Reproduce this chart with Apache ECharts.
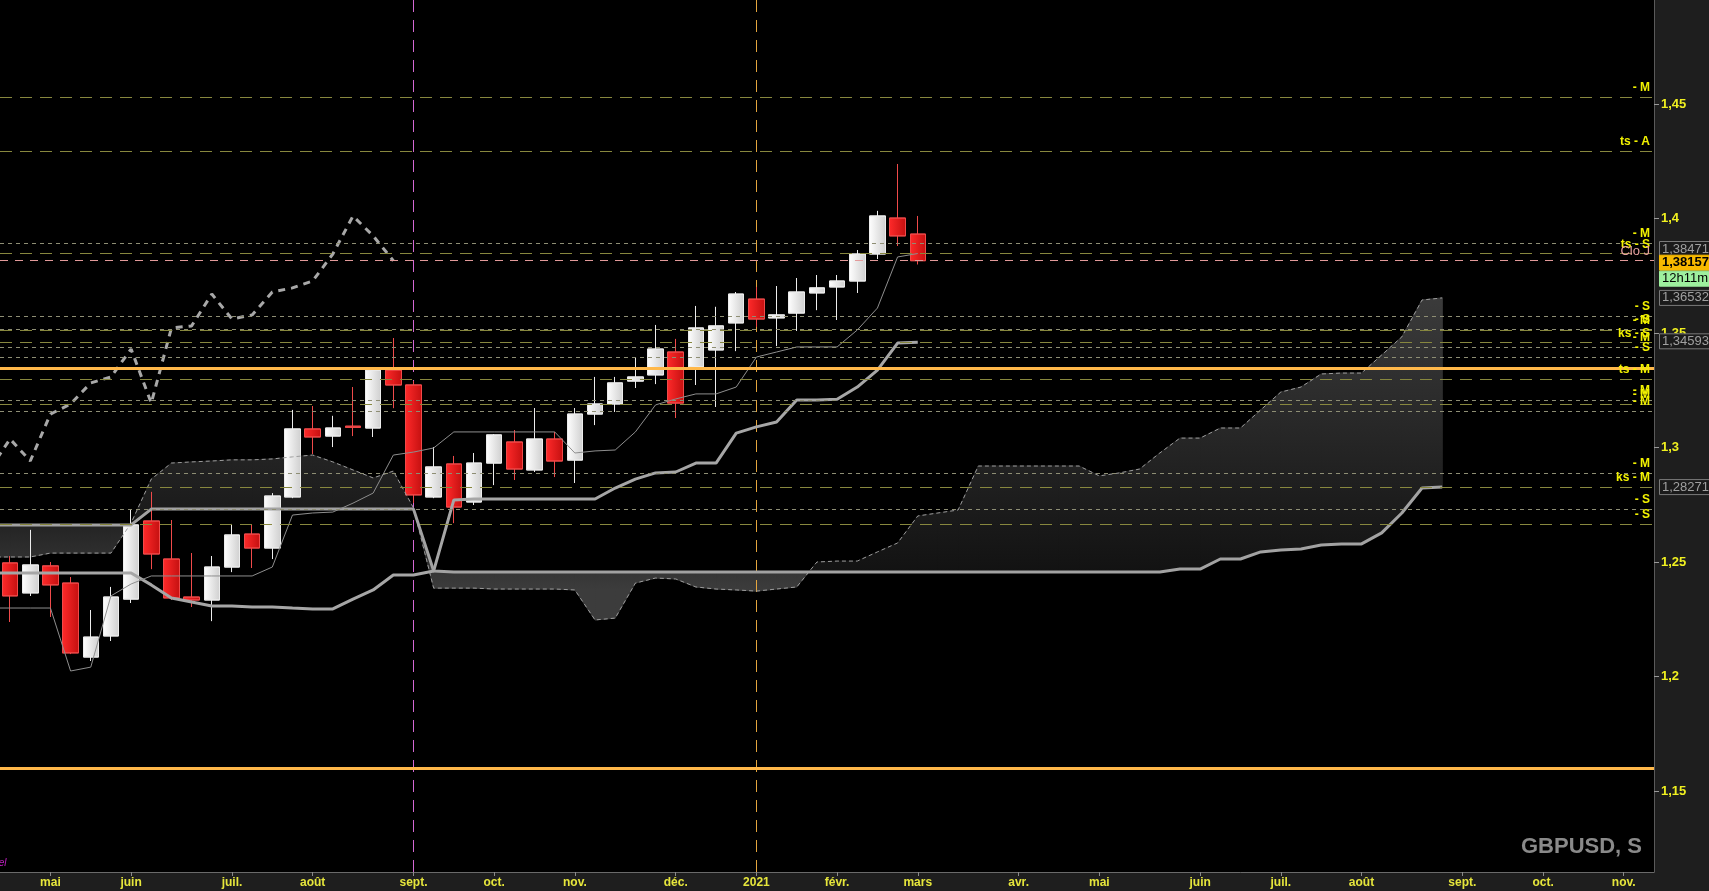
<!DOCTYPE html>
<html><head><meta charset="utf-8">
<script src="https://cdn.jsdelivr.net/npm/echarts@6/dist/echarts.min.js"></script>
<style>html,body{margin:0;padding:0;background:#1e1e1e;overflow:hidden}#c{width:1709px;height:891px}</style>
</head><body><div id="c"></div>
<script>
// ---- categories: weekly bars (Monday) ----
const weeks = ['2020-04-20','2020-04-27','2020-05-04','2020-05-11','2020-05-18','2020-05-25','2020-06-01','2020-06-08','2020-06-15','2020-06-22','2020-06-29','2020-07-06','2020-07-13','2020-07-20','2020-07-27','2020-08-03','2020-08-10','2020-08-17','2020-08-24','2020-08-31','2020-09-07','2020-09-14','2020-09-21','2020-09-28','2020-10-05','2020-10-12','2020-10-19','2020-10-26','2020-11-02','2020-11-09','2020-11-16','2020-11-23','2020-11-30','2020-12-07','2020-12-14','2020-12-21','2020-12-28',
'2021-01-04','2021-01-11','2021-01-18','2021-01-25','2021-02-01','2021-02-08','2021-02-15','2021-02-22','2021-03-01','2021-03-08','2021-03-15','2021-03-22','2021-03-29','2021-04-05','2021-04-12','2021-04-19','2021-04-26','2021-05-03','2021-05-10','2021-05-17','2021-05-24','2021-05-31','2021-06-07','2021-06-14','2021-06-21','2021-06-28','2021-07-05','2021-07-12','2021-07-19','2021-07-26','2021-08-02','2021-08-09','2021-08-16','2021-08-23','2021-08-30','2021-09-06','2021-09-13','2021-09-20','2021-09-27','2021-10-04','2021-10-11','2021-10-18','2021-10-25','2021-11-01','2021-11-08'];
const tickWeeks = ['2020-05-04','2020-06-01','2020-07-06','2020-08-03','2020-09-07','2020-10-05','2020-11-02','2020-12-07','2021-01-04','2021-02-01','2021-03-01','2021-04-05','2021-05-03','2021-06-07','2021-07-05','2021-08-02','2021-09-06','2021-10-04','2021-11-01'];
const tickLabels = ['mai','juin','juil.','août','sept.','oct.','nov.','déc.','2021','févr.','mars','avr.','mai','juin','juil.','août','sept.','oct.','nov.'];
const vLineWeeks = ['2020-09-07','2021-01-04'];

// ---- GBPUSD weekly candles (2020-04-20 .. 2021-03-01) ----
const open  = [1.2496,1.2365,1.2483,1.2408,1.2085,1.2177,1.2338,1.2679,1.2513,1.2347,1.2334,1.2478,1.2622,1.2561,1.2784,1.3081,1.3050,1.3093,1.3085,1.3338,1.3273,1.2784,1.2928,1.2762,1.2932,1.3024,1.2902,1.3037,1.2945,1.3146,1.3190,1.3290,1.3317,1.3417,1.3352,1.3426,1.3544,1.3648,1.3566,1.3587,1.3675,1.3701,1.3727,1.3845,1.4002,1.3932];
const close = [1.2352,1.2487,1.2400,1.2103,1.2172,1.2347,1.2662,1.2535,1.2343,1.2334,1.2478,1.2618,1.2561,1.2788,1.3081,1.3046,1.3085,1.3088,1.3338,1.3273,1.2793,1.2915,1.2740,1.2932,1.3055,1.2906,1.3037,1.2941,1.3146,1.3190,1.3282,1.3308,1.3430,1.3194,1.3522,1.3531,1.3670,1.3561,1.3579,1.3679,1.3697,1.3727,1.3845,1.4011,1.3924,1.38157];
const low   = [1.2238,1.2352,1.2260,1.2098,1.2068,1.2155,1.2321,1.2469,1.2335,1.2304,1.2242,1.2456,1.2474,1.2513,1.2779,1.2972,1.3002,1.3050,1.3046,1.3172,1.2758,1.2779,1.2670,1.2749,1.2836,1.2858,1.2893,1.2871,1.2845,1.3098,1.3155,1.3260,1.3277,1.3129,1.3273,1.3177,1.3421,1.3526,1.3443,1.3509,1.3600,1.3557,1.3675,1.3823,1.3880,1.3800];
const high  = [1.2526,1.2640,1.2500,1.2434,1.2290,1.2391,1.2727,1.2806,1.2683,1.2539,1.2526,1.2666,1.2662,1.2800,1.3164,1.3181,1.3138,1.3264,1.3345,1.3478,1.3290,1.3002,1.2963,1.2976,1.3058,1.3076,1.3172,1.3068,1.3172,1.3308,1.3308,1.3395,1.3535,1.3474,1.3618,1.3614,1.3679,1.3701,1.3705,1.3740,1.3753,1.3753,1.3862,1.4033,1.4238,1.4011];

// ---- Ichimoku; first value = week 2020-04-13, just left of the view ----
const ichiStart = -1;
const tenkan = [1.2299,1.2299,1.2299,1.2299,1.2024,1.2041,1.2352,1.2404,1.2439,1.2439,1.2439,1.2439,1.2439,1.2439,1.2478,1.2705,1.2714,1.2718,1.2757,1.2801,1.2967,1.2980,1.2998,1.3068,1.3068,1.3068,1.3068,1.3068,1.3068,1.2976,1.2985,1.2989,1.3068,1.3186,1.3212,1.3234,1.3234,1.3264,1.3395,1.3417,1.3439,1.3439,1.3439,1.3513,1.3609,1.3832,1.38471];
const kijun  = [1.2452,1.2452,1.2452,1.2452,1.2452,1.2452,1.2452,1.2452,1.2400,1.2343,1.2325,1.2308,1.2308,1.2304,1.2304,1.2299,1.2295,1.2295,1.2338,1.2378,1.2443,1.2443,1.2461,1.2771,1.2775,1.2775,1.2775,1.2775,1.2775,1.2775,1.2775,1.2823,1.2862,1.2889,1.2893,1.2932,1.2932,1.3063,1.3090,1.3111,1.3207,1.3207,1.3211,1.3264,1.3338,1.3456,1.34593];
const spanA  = [1.2522,1.2522,1.2522,1.2539,1.2539,1.2539,1.2539,1.2670,1.2862,1.2932,1.2937,1.2941,1.2946,1.2946,1.2950,1.2959,1.2967,1.2937,1.2902,1.2867,1.2897,1.2736,1.2386,1.2386,1.2386,1.2382,1.2382,1.2382,1.2382,1.2378,1.2247,1.2255,1.2408,1.2430,1.2426,1.2391,1.2382,1.2378,1.2373,1.2382,1.2391,1.2500,1.2504,1.2504,1.2544,1.2583,1.2701,1.2714,1.2727,1.2919,1.2919,1.2919,1.2919,1.2919,1.2919,1.2876,1.2889,1.2906,1.2976,1.3041,1.3041,1.3085,1.3085,1.3164,1.3242,1.3264,1.3321,1.3325,1.3325,1.3404,1.3483,1.3644,1.36532];
const spanB  = [1.2662,1.2662,1.2662,1.2662,1.2662,1.2662,1.2662,1.2662,1.2731,1.2731,1.2731,1.2731,1.2731,1.2731,1.2731,1.2731,1.2731,1.2731,1.2731,1.2731,1.2731,1.2731,1.2461,1.2456,1.2456,1.2456,1.2456,1.2456,1.2456,1.2456,1.2456,1.2456,1.2456,1.2456,1.2456,1.2456,1.2456,1.2456,1.2456,1.2456,1.2456,1.2456,1.2456,1.2456,1.2456,1.2456,1.2456,1.2456,1.2456,1.2456,1.2456,1.2456,1.2456,1.2456,1.2456,1.2456,1.2456,1.2456,1.2456,1.2469,1.2469,1.2513,1.2513,1.2544,1.2552,1.2557,1.2574,1.2579,1.2579,1.2627,1.2714,1.2823,1.28271];
const chikouShift = 26;

// ---- horizontal levels ----
const levelPrices = [1.4531,1.4295,1.3893,1.38471,1.38157,1.3574,1.3518,1.3513,1.34593,1.3439,1.3395,1.3347,1.3299,1.3207,1.3190,1.3159,1.2889,1.28271,1.2731,1.2666,1.1600];
const levelKinds  = ['olive','olive','gray','olive','pink','gray','gray','olive','olive','gray','gray','orange','olive','gray','olive','gray','gray','olive','gray','olive','orange'];
const levelLabels = ['- M','ts - A','- M','ts - S','Clo J','- S','- S','- M','ks - S','- M','- S','','ts - M','- M','- M','- M','- M','ks - M','- S','- S',''];

// ---- right axis value tags ----
const tagPrices = [1.38471,1.38157,1.36532,1.34593,1.28271];
const tagTexts  = ['1,38471','1,38157','1,36532','1,34593','1,28271'];
const timerText = '12h11m';

const chart = echarts.init(document.getElementById('c'), null, {renderer:'canvas'});
const nCat = weeks.length;
const candleData = open.map((o,i)=>[o, close[i], low[i], high[i]]);
const ichiSeries = arr => arr.map((v,k)=>[k+ichiStart, v]);
const chikou = [];
for (let i = ichiStart; i + chikouShift < close.length; i++) { if (i + chikouShift >= 0) chikou.push([i, close[i+chikouShift]]); }
const cloudData = [];
for (let k = 0; k < spanA.length-1; k++) cloudData.push([k+ichiStart, spanA[k], spanB[k], spanA[k+1], spanB[k+1]]);

const kindStyle = {
  olive: {color:'#87873e', width:1, type:[12,8]},
  gray:  {color:'#8e8e74', width:1, type:[4,4]},
  pink:  {color:'#e29a9a', width:1, type:[8,7]},
  orange:{color:'#ffb84a', width:3, type:'solid'}
};
const hLines = levelPrices.map((p,i)=>({
  yAxis: p,
  lineStyle: kindStyle[levelKinds[i]],
  label: {show: levelLabels[i] !== '', formatter: levelLabels[i], position:'insideEndTop', distance:[4,3],
    color: levelKinds[i]==='pink' ? '#e8a0a0' : '#f2f200', fontWeight: levelKinds[i]==='pink' ? 'normal':'bold',
    fontSize: levelKinds[i]==='pink' ? 13 : 12, fontFamily:'Arial'}
}));

function cloudItem(params, api) {
  const x0 = api.value(0), a0 = api.value(1), b0 = api.value(2), a1 = api.value(3), b1 = api.value(4);
  const x1 = x0 + 1;
  const d0 = a0 - b0, d1 = a1 - b1;
  const P = (x,y) => api.coord([x,y]);
  const top = api.coord([0, 1.372])[1], bot = api.coord([0, 1.245])[1];
  const bull = new echarts.graphic.LinearGradient(0, top, 0, bot, [{offset:0,color:'#3d3d3d'},{offset:1,color:'#121212'}], true);
  const bTop = api.coord([0, 1.266])[1], bBot = api.coord([0, 1.238])[1];
  const bear = new echarts.graphic.LinearGradient(0, bTop, 0, bBot, [{offset:0,color:'#242424'},{offset:1,color:'#3c3c3c'}], true);
  const polys = [];
  if (d0 * d1 < 0) {
    const t = d0 / (d0 - d1);
    const xc = x0 + t, yc = a0 + (a1 - a0) * t;
    polys.push({pts:[P(x0,a0),P(xc,yc),P(x0,b0)], up: d0 > 0});
    polys.push({pts:[P(xc,yc),P(x1,a1),P(x1,b1)], up: d1 > 0});
  } else {
    polys.push({pts:[P(x0,a0),P(x1,a1),P(x1,b1),P(x0,b0)], up: (d0+d1) >= 0});
  }
  return {type:'group', children: polys.map(p=>({type:'polygon', shape:{points:p.pts},
    style:{fill: p.up?bull:bear, stroke: p.up?bull:bear, lineWidth:0.8}}))};
}

const fmtY = v => String(Math.round(v*100)/100).replace('.', ',');

chart.setOption({
  animation: false,
  backgroundColor: '#1e1e1e',
  grid: {left:0, right:55, top:0, bottom:19, show:true, backgroundColor:'#000', borderWidth:0},
  xAxis: [{
    type:'category', data: weeks, boundaryGap:true,
    axisLine:{onZero:false, lineStyle:{color:'#6a6a6a'}},
    axisTick:{show:true, alignWithLabel:true, length:4, lineStyle:{color:'#8a8a8a'}, interval:(i,v)=>tickWeeks.includes(v)},
    axisLabel:{interval:(i,v)=>tickWeeks.includes(v), formatter:v=>{const k=tickWeeks.indexOf(v); return k<0?'':tickLabels[k];},
      color:'#e6e63c', fontSize:12, fontWeight:'bold', fontFamily:'Arial', margin:5},
    splitLine:{show:false}
  },{
    type:'value', min:-0.5, max:nCat-0.5, show:false, axisLine:{onZero:false}, splitLine:{show:false}
  }],
  yAxis: [{
    type:'value', position:'right', min:1.11463, max:1.49541, splitNumber:8, scale:true,
    axisLine:{show:true, onZero:false, lineStyle:{color:'#5a5a5a'}},
    axisTick:{show:true, length:5, lineStyle:{color:'#9a9a9a'}},
    axisLabel:{color:'#f0f020', fontSize:13, fontWeight:'bold', fontFamily:'Arial', margin:7, formatter: fmtY, showMinLabel:false, showMaxLabel:false},
    splitLine:{show:false}
  }],
  series: [
    { type:'custom', name:'cloud', xAxisIndex:1, yAxisIndex:0, z:0, renderItem: cloudItem, data: cloudData, silent:true,
      encode:{x:0, y:[1,2]},
      markLine:{silent:true, symbol:['none','none'], z:1, precision:6, label:{show:false},
        data: vLineWeeks.map((w,i)=>({xAxis: weeks.indexOf(w), lineStyle:{color: i===0?'#d468d4':'#e4a63e', width:1, type:[12,8]}}))}
    },
    { type:'candlestick', xAxisIndex:0, yAxisIndex:0, z:3, barWidth:16, data: candleData,
      itemStyle:{
        color: new echarts.graphic.LinearGradient(0,0,1,0,[{offset:0,color:'#ffffff'},{offset:1,color:'#cfcfcf'}]),
        color0: new echarts.graphic.LinearGradient(0,0,1,0,[{offset:0,color:'#ff2a2a'},{offset:1,color:'#c41010'}]),
        borderColor:'#ececec', borderColor0:'#f04a4a', borderWidth:1
      }
    },
    { type:'line', name:'spanA', xAxisIndex:1, z:4, data: ichiSeries(spanA), showSymbol:false, symbol:'none',
      lineStyle:{color:'#9c9c9c', width:1, type:[4,3]} },
    { type:'line', name:'spanB', xAxisIndex:1, z:4, data: ichiSeries(spanB), showSymbol:false, symbol:'none',
      lineStyle:{color:'#a2a2a2', width:3} },
    { type:'line', name:'kijun', xAxisIndex:1, z:4, data: ichiSeries(kijun), showSymbol:false, symbol:'none',
      lineStyle:{color:'#a6a6a6', width:3} },
    { type:'line', name:'tenkan', xAxisIndex:1, z:4, data: ichiSeries(tenkan), showSymbol:false, symbol:'none',
      lineStyle:{color:'#8e8e8e', width:1},
      markLine:{silent:true, symbol:['none','none'], z:10, precision:6, data: hLines} },
    { type:'line', name:'chikou', xAxisIndex:1, z:5, data: chikou, showSymbol:false, symbol:'none',
      lineStyle:{color:'#a8a8a8', width:3, type:[7,6]} }
  ]
});

// value tags on the right axis + texts
const nudges = [-4.5, 2, 0, -1, 0];
const tags = [];
tagPrices.forEach((p,i)=>{
  const y = chart.convertToPixel({yAxisIndex:0}, p) + nudges[i];
  const cur = i === 1;
  tags.push({type:'rect', shape:{x:1659.5, y:y-7.5, width:60, height:15},
    style:{fill: cur?'#f7b900':'#1b1b1b', stroke: cur?'#f7b900':'#7a7a7a', lineWidth:1}, z:20});
  tags.push({type:'text', x:1662, y:y, style:{text:tagTexts[i], fill: cur?'#000':'#a0a0a0', font:(cur?'bold ':'')+'13px Arial', textVerticalAlign:'middle'}, z:21});
  if (cur) {
    const y2 = y + 16;
    tags.push({type:'rect', shape:{x:1659.5, y:y2-7.5, width:60, height:15}, style:{fill:'#9ef09e', stroke:'#9ef09e'}, z:20});
    tags.push({type:'text', x:1662, y:y2, style:{text:timerText, fill:'#000', font:'13px Arial', textVerticalAlign:'middle'}, z:21});
  }
});
tags.push({type:'text', right:67, bottom:33, style:{text:'GBPUSD, S', fill:'#8a8a8a', font:'bold 22px Arial'}, z:20});
tags.push({type:'text', x:-14, y:858, style:{text:'Réel', fill:'#c020c0', font:'italic 10px Arial'}, z:20});
chart.setOption({graphic: tags});
</script>
</body></html>
